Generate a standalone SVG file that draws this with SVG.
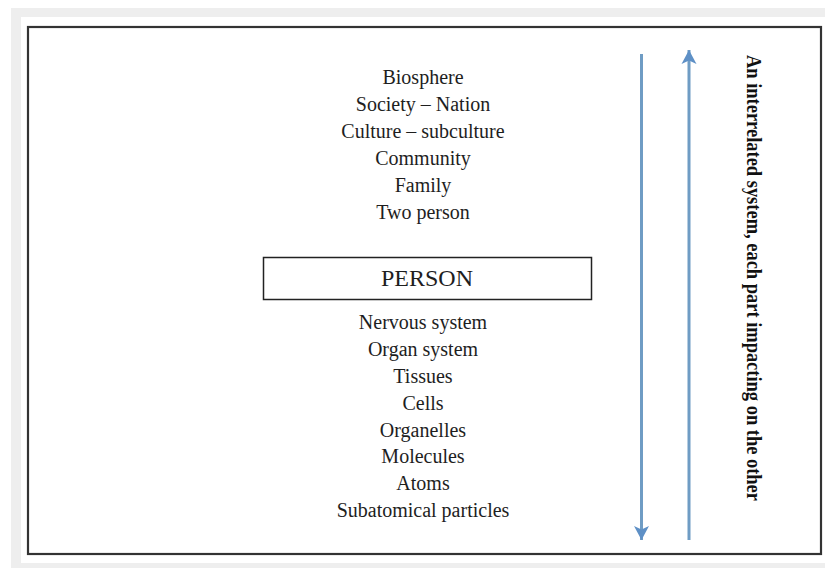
<svg xmlns="http://www.w3.org/2000/svg" width="825" height="568" viewBox="0 0 825 568">
<style>
.lbl{font-family:"Liberation Serif","Times New Roman",serif;font-size:20px;fill:#1e1e1e;text-anchor:middle}
.conn{stroke:#6f9cc4;stroke-width:3;fill:none}
.vt{font-family:"Liberation Serif","Times New Roman",serif;font-size:21px;font-weight:bold;fill:#111}
</style>
<defs>
<marker id="ah" viewBox="0 0 18 18" refX="16" refY="9" markerWidth="18" markerHeight="18" markerUnits="userSpaceOnUse" orient="auto">
<path d="M16,9 L2,1.5 L5.5,9 L2,16.5 Z" fill="#5e90c6"/>
</marker>
</defs>
<rect x="0" y="0" width="825" height="568" fill="#ffffff"/>
<rect x="11" y="8" width="814" height="560" fill="#eeeeee"/>
<rect x="21" y="17" width="804" height="546" fill="#ffffff"/>
<g id="frame">
<rect x="28" y="27" width="793" height="527" fill="#ffffff" stroke="#333333" stroke-width="2.2"/>
</g>
<g id="upper-levels">
<text class="lbl" x="423" y="84">Biosphere</text>
<text class="lbl" x="423" y="111">Society – Nation</text>
<text class="lbl" x="423" y="138">Culture – subculture</text>
<text class="lbl" x="423" y="165">Community</text>
<text class="lbl" x="423" y="192">Family</text>
<text class="lbl" x="423" y="219">Two person</text>
</g>
<g id="person">
<rect x="263.5" y="257.5" width="328" height="42" fill="#ffffff" stroke="#222222" stroke-width="1.5"/>
<text class="lbl" x="427" y="286" style="font-size:24px">PERSON</text>
</g>
<g id="lower-levels">
<text class="lbl" x="423" y="329">Nervous system</text>
<text class="lbl" x="423" y="356">Organ system</text>
<text class="lbl" x="423" y="383">Tissues</text>
<text class="lbl" x="423" y="410">Cells</text>
<text class="lbl" x="423" y="437">Organelles</text>
<text class="lbl" x="423" y="463">Molecules</text>
<text class="lbl" x="423" y="490">Atoms</text>
<text class="lbl" x="423" y="517">Subatomical particles</text>
</g>
<g id="connectors">
<line class="conn" x1="641.5" y1="54" x2="641.5" y2="540" marker-end="url(#ah)"/>
<line class="conn" x1="689" y1="540" x2="689" y2="50" marker-end="url(#ah)"/>
</g>
<g id="side-label">
<text class="vt" transform="translate(747,55) rotate(90)" x="0" y="0" textLength="446" lengthAdjust="spacingAndGlyphs">An interrelated system, each part impacting on the other</text>
</g>
</svg>
